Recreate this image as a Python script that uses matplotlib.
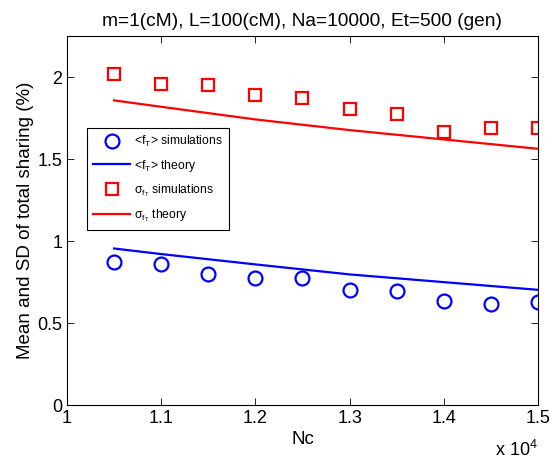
import matplotlib
matplotlib.use("Agg")
import matplotlib.pyplot as plt
import numpy as np

plt.rcParams['font.family'] = ['Liberation Sans', 'DejaVu Sans']
plt.rcParams['mathtext.fontset'] = 'custom'
plt.rcParams['mathtext.rm'] = 'Liberation Sans'
plt.rcParams['mathtext.it'] = 'Liberation Sans'
plt.rcParams['mathtext.bf'] = 'Liberation Sans:bold'

nc = [10500, 11000, 11500, 12000, 12500, 13000, 13500, 14000, 14500, 15000]
mean_sim = [0.870, 0.858, 0.797, 0.776, 0.778, 0.705, 0.695, 0.632, 0.616, 0.630]
sd_sim = [2.016, 1.959, 1.953, 1.888, 1.874, 1.807, 1.776, 1.667, 1.691, 1.691]
nc_theory = [10500, 11000, 12000, 13000, 14000, 15000]
mean_theory = [0.955, 0.921, 0.858, 0.797, 0.750, 0.703]
sd_theory = [1.858, 1.819, 1.742, 1.677, 1.620, 1.563]
xticks = [10000, 11000, 12000, 13000, 14000, 15000]
xticklabels = ['1', '1.1', '1.2', '1.3', '1.4', '1.5']
yticks = [0, 0.5, 1, 1.5, 2]
yticklabels = ['0', '0.5', '1', '1.5', '2']

fig = plt.figure(figsize=(5.54, 4.63), dpi=100)
ax = fig.add_axes([0.121, 0.125, 0.850, 0.797])

ax.plot(nc, mean_sim, 'o', mfc='none', mec='#0000ff', mew=1.6, ms=10,
        label=r'<$\mathrm{f_T}$> simulations', linestyle='none')
ax.plot(nc_theory, mean_theory, '-', color='#0000ff', lw=1.6,
        label=r'<$\mathrm{f_T}$> theory')
ax.plot(nc, sd_sim, 's', mfc='none', mec='#ff0000', mew=1.6, ms=8,
        label=r'$\mathrm{\sigma_{f_T}}$ simulations', linestyle='none')
ax.plot(nc_theory, sd_theory, '-', color='#ff0000', lw=1.6,
        label=r'$\mathrm{\sigma_{f_T}}$ theory')

ax.set_xlim(10000, 15000)
ax.set_ylim(0, 2.25)
ax.set_xticks(xticks)
ax.set_xticklabels(xticklabels)
ax.set_yticks(yticks)
ax.set_yticklabels(yticklabels)
ax.tick_params(direction='in', top=True, right=True, labelsize=13, length=5, width=0.6)
for s in ax.spines.values():
    s.set_linewidth(0.8)

ax.set_xlabel('Nc', fontsize=13.5, labelpad=3)
ax.set_ylabel('Mean and SD of total sharing (%)', fontsize=13.5, labelpad=2)
ax.set_title('m=1(cM), L=100(cM), Na=10000, Et=500 (gen)', fontsize=13.8, pad=7)
ax.text(1.0, -0.095, r'x 10$^{4}$', transform=ax.transAxes, ha='right', va='top', fontsize=13)

leg = ax.legend(loc='upper left', bbox_to_anchor=(0.042, 0.751), borderaxespad=0,
                fontsize=8.7, fancybox=False, edgecolor='black', framealpha=1,
                handlelength=3.1, labelspacing=0.7, borderpad=0.5, handletextpad=0.3)
leg.get_frame().set_linewidth(0.8)

fig.savefig('out.png', dpi=100)
